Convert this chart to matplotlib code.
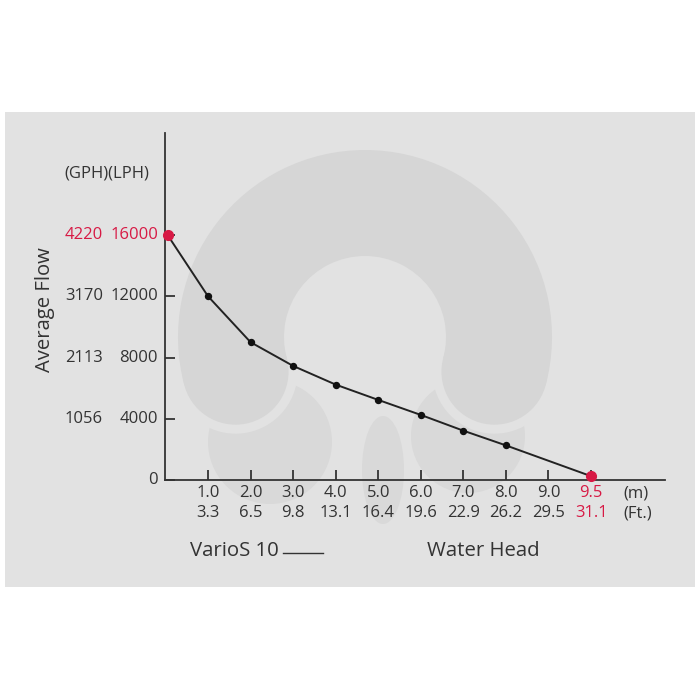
import matplotlib
matplotlib.use('Agg')
import numpy as np
import matplotlib.pyplot as plt
from matplotlib import transforms
from matplotlib.patches import Rectangle, Circle, Wedge, Ellipse
from matplotlib.lines import Line2D

# ---------------- data ----------------
head_m = ['1.0', '2.0', '3.0', '4.0', '5.0', '6.0', '7.0', '8.0', '9.0', '9.5']
head_ft = ['3.3', '6.5', '9.8', '13.1', '16.4', '19.6', '22.9', '26.2', '29.5', '31.1']
point_head = ['0', '1.0', '2.0', '3.0', '4.0', '5.0', '6.0', '7.0', '8.0', '9.5']
flow_lph = [16000, 12000, 9000, 7450, 6230, 5230, 4250, 3220, 2260, 250]
lph_ticks = [0, 4000, 8000, 12000, 16000]
lph_labels = ['0', '4000', '8000', '12000', '16000']
gph_labels = ['', '1056', '2113', '3170', '4220']
series_name = 'VarioS 10'

RED = '#d71a45'
INK = '#333333'
PANEL = '#e2e2e2'
MARK = '#d6d6d6'
MARK2 = '#d9d9d9'
FONT = ['Open Sans', 'DejaVu Sans']
plt.rcParams['font.family'] = FONT

W = H = 700
fig = plt.figure(figsize=(7, 7), dpi=100, facecolor='white')

def fx(px):
    return px / W

def fy(py):
    return 1 - py / H

# background panel + faint watermark (pixel coords)
bg = fig.add_axes([0, 0, 1, 1], zorder=0)
bg.set_xlim(0, W)
bg.set_ylim(H, 0)
bg.axis('off')
bg.add_patch(Rectangle((5, 112), 690, 475, facecolor=PANEL, edgecolor='none'))
cx, cy, r_out, r_in = 365, 337, 187, 81
r_mid, half = (r_out + r_in) / 2, (r_out - r_in) / 2
a1, a2 = 165, 375
cap1 = (cx + r_mid * np.cos(np.radians(a1)), cy + r_mid * np.sin(np.radians(a1)))
cap2 = (cx + r_mid * np.cos(np.radians(a2)), cy + r_mid * np.sin(np.radians(a2)))
# tentacles
bg.add_patch(Circle((270, 442), 62, facecolor=MARK2, edgecolor='none'))
bg.add_patch(Circle((468, 436), 57, facecolor=MARK2, edgecolor='none'))
# gaps under lobes
bg.add_patch(Circle(cap1, half + 9, facecolor=PANEL, edgecolor='none'))
bg.add_patch(Circle(cap2, half + 9, facecolor=PANEL, edgecolor='none'))
# middle tentacle
bg.add_patch(Ellipse((383, 470), 42, 108, facecolor=MARK2, edgecolor='none'))
# ring and rounded lobes
bg.add_patch(Wedge((cx, cy), r_out, a1, a2, width=r_out - r_in, facecolor=MARK, edgecolor='none'))
bg.add_patch(Circle(cap1, half, facecolor=MARK, edgecolor='none'))
bg.add_patch(Circle(cap2, half, facecolor=MARK, edgecolor='none'))

# main axes
left, right, bottom, top = 165, 665, 480, 133
ax = fig.add_axes([fx(left), fy(bottom), (right - left) / W, (bottom - top) / H], zorder=2)
ax.patch.set_alpha(0)
unit_x = 42.6
unit_y = 245 / 16000
ax.set_xlim(-0.01, (right - left) / unit_x)
ax.set_ylim(0, (bottom - top) / unit_y)
for s in ['top', 'right']:
    ax.spines[s].set_visible(False)
for s in ['left', 'bottom']:
    ax.spines[s].set_color(INK)
    ax.spines[s].set_linewidth(1.3)

cats = ['0'] + head_m
xpos = [cats.index(h) for h in point_head]
xpos[0] = 0.05
tick_pos = [cats.index(h) for h in head_m]

ax.plot(xpos, flow_lph, color='#222222', lw=1.4, zorder=3, clip_on=False)
ax.plot(xpos[1:-1], flow_lph[1:-1], 'o', color='#111111', ms=4.3, zorder=4)
ax.plot([xpos[0], xpos[-1]], [flow_lph[0], flow_lph[-1]], 'o', color=RED, ms=7,
        zorder=5, clip_on=False)

ax.set_xticks(tick_pos)
ax.set_xticklabels([])
ax.set_yticks(lph_ticks)
ax.set_yticklabels([])
ax.tick_params(direction='in', length=7, width=1.3, color=INK)

FS = 12
# y labels
ty = transforms.blended_transform_factory(fig.transFigure, ax.transData)
for v, l1, l2 in zip(lph_ticks, lph_labels, gph_labels):
    c = RED if v == max(lph_ticks) else INK
    ax.text(fx(158), v, l1, transform=ty, ha='right', va='center', fontsize=FS, color=c)
    if l2:
        ax.text(fx(103), v, l2, transform=ty, ha='right', va='center', fontsize=FS, color=c)

fig.text(fx(64), fy(173), '(GPH)(LPH)', ha='left', va='center', fontsize=FS, color=INK)
fig.text(fx(45), fy(310), 'Average Flow', ha='center', va='center', rotation=90,
         fontsize=14.6, color=INK)

# x labels
tx = transforms.blended_transform_factory(ax.transData, fig.transFigure)
for p, m, f in zip(tick_pos, head_m, head_ft):
    c = RED if m == head_m[-1] else INK
    ax.text(p, fy(493), m, transform=tx, ha='center', va='center', fontsize=FS, color=c)
    ax.text(p, fy(513), f, transform=tx, ha='center', va='center', fontsize=FS, color=c)
fig.text(fx(636), fy(493), '(m)', ha='center', va='center', fontsize=FS, color=INK)
fig.text(fx(638), fy(513), '(Ft.)', ha='center', va='center', fontsize=FS, color=INK)

fig.text(fx(190), fy(551), series_name, ha='left', va='center', fontsize=14.7, color=INK)
fig.add_artist(Line2D([fx(283), fx(323)], [fy(553), fy(553)], color=INK, lw=1.0,
                      transform=fig.transFigure))
fig.text(fx(483), fy(551), 'Water Head', ha='center', va='center', fontsize=14.7, color=INK)

fig.savefig('out.png', dpi=100, facecolor='white')
